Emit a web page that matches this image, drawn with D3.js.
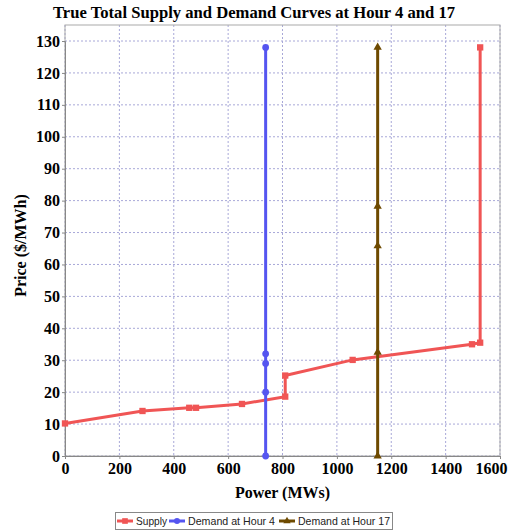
<!DOCTYPE html>
<html><head><meta charset="utf-8">
<script src="https://cdn.jsdelivr.net/npm/d3@7"></script>
<style>body{margin:0;background:#fff}</style>
</head><body>
<svg id="c" width="520" height="531"></svg>
<script>
const supplyX = [0, 285, 457, 482, 651, 810, 810, 1058, 1497, 1527, 1527];
const supplyY = [10.2, 14.1, 15.1, 15.1, 16.3, 18.6, 25.2, 30.1, 35.0, 35.5, 128];
const demand4X = [738, 738, 738, 738, 738];
const demand4Y = [0, 20, 29, 32, 128];
const demand17X = [1150, 1150, 1150, 1150, 1150];
const demand17Y = [0, 32.5, 65.8, 78.2, 128];
const xTicks = [0, 200, 400, 600, 800, 1000, 1200, 1400, 1600];
const yTicks = [0, 10, 20, 30, 40, 50, 60, 70, 80, 90, 100, 110, 120, 130];
const seriesNames = ["Supply", "Demand at Hour 4", "Demand at Hour 17"];
const seriesColors = ["#f05555", "#5555f0", "#6e4a00"];

const svg = d3.select("#c");
const L = 65, R = 500, T = 25, B = 456;
const x = d3.scaleLinear().domain([0, 1600]).range([L, R]);
const y = d3.scaleLinear().domain([0, 130]).range([B, 41]);
const serif = "'Liberation Serif','Times New Roman',serif";

// grid
const g = svg.append("g");
g.selectAll(".gx").data(xTicks).join("line")
  .attr("x1", d => x(d)).attr("x2", d => x(d)).attr("y1", T).attr("y2", B)
  .attr("stroke", "#a8a8d8").attr("stroke-width", 1).attr("stroke-dasharray", "2,2");
g.selectAll(".gy").data(yTicks).join("line")
  .attr("x1", L).attr("x2", R).attr("y1", d => y(d)).attr("y2", d => y(d))
  .attr("stroke", "#a8a8d8").attr("stroke-width", 1).attr("stroke-dasharray", "2,2");
// border
svg.append("rect").attr("x", L).attr("y", T).attr("width", R - L).attr("height", B - T)
  .attr("fill", "none").attr("stroke", "#aaaaaa");

// axes
const xa = svg.append("g").attr("transform", `translate(0,${B})`)
  .call(d3.axisBottom(x).tickValues(xTicks).tickSize(3).tickPadding(4).tickFormat(d3.format("d")));
const ya = svg.append("g").attr("transform", `translate(${L},0)`)
  .call(d3.axisLeft(y).tickValues(yTicks).tickSize(3).tickPadding(2).tickFormat(d3.format("d")));
[xa, ya].forEach(a => {
  a.select(".domain").attr("stroke", "#888");
  a.selectAll(".tick line").attr("stroke", "#888");
  a.selectAll("text").attr("font-family", serif).attr("font-weight", "bold")
    .attr("font-size", 16).attr("fill", "#000");
});
xa.selectAll(".tick").filter(d => d === 1600).select("text").attr("dx", -9);

// series
const series = [
  {xs: supplyX, ys: supplyY, shape: d3.symbolSquare, size: 40},
  {xs: demand4X, ys: demand4Y, shape: d3.symbolCircle, size: 36},
  {xs: demand17X, ys: demand17Y, shape: d3.symbolTriangle, size: 30}
];
const line = d3.line().x(d => x(d[0])).y(d => y(d[1]));
series.forEach((s, i) => {
  const pts = s.xs.map((v, j) => [v, s.ys[j]]);
  svg.append("path").attr("d", line(pts)).attr("fill", "none")
    .attr("stroke", seriesColors[i]).attr("stroke-width", 3);
  svg.selectAll(".p" + i).data(pts).join("path")
    .attr("transform", d => `translate(${x(d[0])},${y(d[1])})`)
    .attr("d", d3.symbol().type(s.shape).size(s.size))
    .attr("fill", seriesColors[i]);
});

// title & labels
svg.append("text").attr("x", 254).attr("y", 18).attr("text-anchor", "middle")
  .attr("font-family", serif).attr("font-weight", "bold").attr("font-size", 17)
  .attr("textLength", 402).attr("lengthAdjust", "spacingAndGlyphs")
  .text("True Total Supply and Demand Curves at Hour 4 and 17");
svg.append("text").attr("x", (L + R) / 2).attr("y", 498).attr("text-anchor", "middle")
  .attr("font-family", serif).attr("font-weight", "bold").attr("font-size", 16)
  .text("Power (MWs)");
svg.append("text").attr("transform", `translate(26,${(T + B) / 2 + 5}) rotate(-90)`)
  .attr("text-anchor", "middle")
  .attr("font-family", serif).attr("font-weight", "bold").attr("font-size", 16)
  .text("Price ($/MWh)");

// legend
const lg = svg.append("g");
lg.append("rect").attr("x", 115.5).attr("y", 512.5).attr("width", 277).attr("height", 17)
  .attr("fill", "#fff").attr("stroke", "#888");
const itemX = [117, 169, 279];
const textW = [31, 87, 92];
seriesNames.forEach((n, i) => {
  const gx = itemX[i];
  lg.append("line").attr("x1", gx).attr("x2", gx + 16).attr("y1", 521).attr("y2", 521)
    .attr("stroke", seriesColors[i]).attr("stroke-width", 3);
  lg.append("path").attr("transform", `translate(${gx + 8},521)`)
    .attr("d", d3.symbol().type(series[i].shape).size(series[i].size * 0.8))
    .attr("fill", seriesColors[i]);
  lg.append("text").attr("x", gx + 19).attr("y", 525)
    .attr("font-family", "'Liberation Sans',Arial,sans-serif").attr("font-size", 10.5)
    .attr("textLength", textW[i]).attr("lengthAdjust", "spacingAndGlyphs")
    .attr("fill", "#222").text(n);
});
</script>
</body></html>
